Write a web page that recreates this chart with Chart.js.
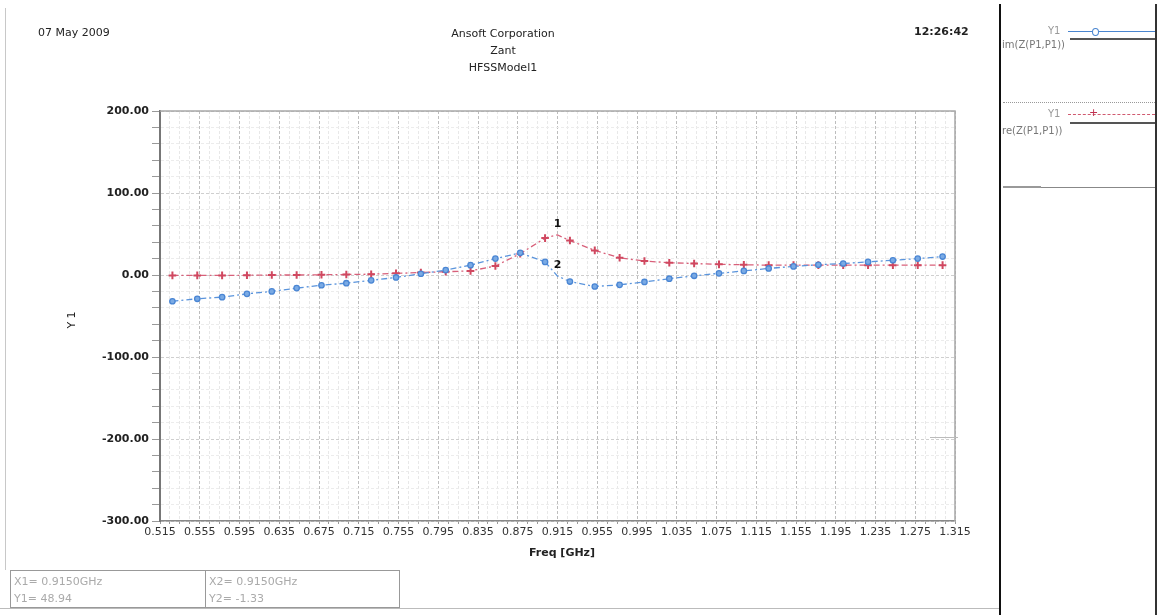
<!DOCTYPE html>
<html><head><meta charset="utf-8">
<script src="https://cdn.jsdelivr.net/npm/chart.js@4.4.1/dist/chart.umd.min.js"></script>
<style>
html,body{margin:0;padding:0;background:#fff;width:1158px;height:615px;overflow:hidden;}
#wrap{position:relative;width:1158px;height:615px;}
canvas{position:absolute;left:0;top:0;}
.t{position:absolute;font-family:"DejaVu Sans",sans-serif;white-space:nowrap;font-size:11px;color:#222;line-height:14px;}
.ln{position:absolute;}
</style></head>
<body><div id="wrap">
<canvas id="c" width="1158" height="615"></canvas>

<div class="ln" style="left:5px;top:8px;width:1px;height:562px;background:#c8c8c8"></div>
<div class="t" style="left:38px;top:26px;">07 May 2009</div>
<div class="t" style="left:403px;top:25px;width:200px;text-align:center;line-height:17px;">Ansoft Corporation<br>Zant<br>HFSSModel1</div>
<div class="t" style="left:914px;top:25px;font-weight:bold;">12:26:42</div>

<div class="ln" style="left:999px;top:4px;width:2px;height:611px;background:#111"></div>
<div class="ln" style="left:1155px;top:4px;width:2px;height:611px;background:#333"></div>
<div class="t" style="left:1048px;top:24px;color:#999;font-size:10px;">Y1</div>
<div class="ln" style="left:1068px;top:31px;width:87px;height:1px;background:#4a86d0"></div>
<div class="ln" style="left:1092px;top:28px;width:5px;height:6px;border:1px solid #4a86d0;border-radius:50%;background:#fff"></div>
<div class="ln" style="left:1070px;top:38px;width:85px;height:2px;background:#555"></div>
<div class="t" style="left:1002px;top:38px;color:#777;font-size:10px;">im(Z(P1,P1))</div>
<div class="ln" style="left:1003px;top:102px;width:152px;height:0;border-top:1px dotted #999"></div>
<div class="t" style="left:1048px;top:107px;color:#999;font-size:10px;">Y1</div>
<div class="ln" style="left:1068px;top:114px;width:87px;height:0;border-top:1px dashed #d05a70"></div>
<div class="t" style="left:1089px;top:106px;color:#c03050;font-size:11px;">+</div>
<div class="ln" style="left:1070px;top:122px;width:85px;height:2px;background:#555"></div>
<div class="t" style="left:1002px;top:124px;color:#777;font-size:10px;">re(Z(P1,P1))</div>
<div class="ln" style="left:1003px;top:187px;width:152px;height:1px;background:#888"></div>
<div class="ln" style="left:1003px;top:186px;width:38px;height:2px;background:#999"></div>

<div class="t" style="left:52px;top:313px;transform:rotate(-90deg);transform-origin:center;width:40px;text-align:center;">Y 1</div>
<div class="t" style="left:512px;top:546px;width:100px;text-align:center;font-weight:bold;">Freq [GHz]</div>

<div class="ln" style="left:10px;top:570px;width:390px;height:38px;border:1px solid #999;box-sizing:border-box"></div>
<div class="ln" style="left:205px;top:570px;width:1px;height:38px;background:#999"></div>
<div class="t" style="left:14px;top:573px;color:#aaa;line-height:17px;">X1= 0.9150GHz<br>Y1= 48.94</div>
<div class="t" style="left:209px;top:573px;color:#aaa;line-height:17px;">X2= 0.9150GHz<br>Y2= -1.33</div>
<div class="ln" style="left:0px;top:608px;width:999px;height:1px;background:#bbb"></div>
<div class="ln" style="left:930px;top:437px;width:28px;height:1px;background:#bbb"></div>
</div>
<script>
const freqGHz = [0.5275, 0.5525, 0.5775, 0.6025, 0.6275, 0.6525, 0.6775, 0.7025, 0.7275, 0.7525,
  0.7775, 0.8025, 0.8275, 0.8525, 0.8775, 0.9025, 0.915, 0.9275, 0.9525, 0.9775, 1.0025, 1.0275,
  1.0525, 1.0775, 1.1025, 1.1275, 1.1525, 1.1775, 1.2025, 1.2275, 1.2525, 1.2775, 1.3025];
const imZ = [-32, -29, -27, -23, -20, -16, -12.5, -10, -6.5, -3,
  1.5, 6, 12, 20, 27, 16, -1.33, -8, -14, -12, -8.5, -4.5,
  -1, 2, 5, 8, 10.5, 12.5, 14, 16, 18, 20, 22.5];
const reZ = [-0.5, -0.5, -0.5, -0.3, 0, 0, 0.3, 0.6, 1, 2,
  3, 4, 5, 11, 26, 45, 48.94, 42, 30, 21, 17, 15,
  14, 13, 12.5, 12, 12, 12, 12, 12, 12, 12, 12];
const xTickLabels = ["0.515","0.555","0.595","0.635","0.675","0.715","0.755","0.795","0.835","0.875",
  "0.915","0.955","0.995","1.035","1.075","1.115","1.155","1.195","1.235","1.275","1.315"];
const yTickLabels = ["-300.00","-200.00","-100.00","0.00","100.00","200.00"];
const markerIndex = 16;
const markerNames = ["1","2"];

const xMajor = xTickLabels.map(parseFloat);
const yMajor = yTickLabels.map(parseFloat);
const isXMajor = v => xMajor.some(m => Math.abs(m - v) < 1e-6);
const isYMajor = v => yMajor.some(m => Math.abs(m - v) < 1e-6);

function xTicks() {
  const out = [];
  for (let i = 0; i < xMajor.length; i++) {
    out.push({value: xMajor[i]});
    if (i < xMajor.length - 1) {
      const step = (xMajor[i+1] - xMajor[i]) / 4;
      for (let k = 1; k < 4; k++) out.push({value: xMajor[i] + step * k});
    }
  }
  return out;
}
function yTicks() {
  const out = [];
  for (let i = 0; i < yMajor.length; i++) {
    out.push({value: yMajor[i]});
    if (i < yMajor.length - 1) {
      const step = (yMajor[i+1] - yMajor[i]) / 5;
      for (let k = 1; k < 5; k++) out.push({value: yMajor[i] + step * k});
    }
  }
  return out;
}

const frame = {
  id: 'frame',
  afterDatasetsDraw(chart) {
    const {ctx, chartArea: a} = chart;
    ctx.save();
    ctx.strokeStyle = '#a8a8a8'; ctx.lineWidth = 1.5;
    ctx.beginPath();
    ctx.moveTo(a.left, a.top); ctx.lineTo(a.right, a.top); ctx.lineTo(a.right, a.bottom);
    ctx.stroke();
    ctx.fillStyle = '#111';
    ctx.font = 'bold 11px "DejaVu Sans"';
    ctx.textAlign = 'center';
    [1, 0].forEach((di, n) => {
      const el = chart.getDatasetMeta(di).data[markerIndex];
      ctx.fillText(markerNames[n], el.x, el.y - 8);
    });
    ctx.restore();
  }
};

const pr = (r) => (c) => c.dataIndex === markerIndex ? 0 : r;

new Chart(document.getElementById('c'), {
  type: 'line',
  data: {
    datasets: [
      {label: 'im(Z(P1,P1))', data: freqGHz.map((f, i) => ({x: f, y: imZ[i]})),
       borderColor: '#5a94dc', backgroundColor: '#5a94dc', borderWidth: 1.3,
       borderDash: [6, 3, 2, 3], pointStyle: 'circle', pointRadius: pr(2.7),
       pointBorderColor: '#4a86d4', pointBackgroundColor: '#7aaae4', tension: 0},
      {label: 're(Z(P1,P1))', data: freqGHz.map((f, i) => ({x: f, y: reZ[i]})),
       borderColor: '#d8607a', backgroundColor: '#d8607a', borderWidth: 1.3,
       borderDash: [6, 3, 2, 3], pointStyle: 'cross', pointRadius: pr(3.8), pointBorderWidth: 2,
       pointBorderColor: '#d04860', tension: 0}
    ]
  },
  options: {
    responsive: false, animation: false, devicePixelRatio: 1,
    layout: {padding: {left: 0, top: 111, right: 203, bottom: 64}},
    plugins: {legend: {display: false}, tooltip: {enabled: false}},
    scales: {
      x: {
        type: 'linear', min: xMajor[0], max: xMajor[xMajor.length - 1],
        afterBuildTicks: s => { s.ticks = xTicks(); },
        afterFit: s => { s.height = 30; },
        ticks: {autoSkip: false, maxRotation: 0, padding: 2, color: '#333',
          font: {family: 'DejaVu Sans', size: 11},
          callback: v => { const i = xMajor.findIndex(m => Math.abs(m - v) < 1e-6); return i >= 0 ? xTickLabels[i] : ''; }},
        grid: {color: c => isXMajor(c.tick.value) ? '#bdbdbd' : '#e8e8e8', lineWidth: 1,
          tickLength: 3, tickColor: '#999'},
        border: {color: '#888', width: 1.5, dash: [3, 2]}
      },
      y: {
        type: 'linear', min: yMajor[0], max: yMajor[yMajor.length - 1],
        afterBuildTicks: s => { s.ticks = yTicks(); },
        afterFit: s => { s.width = 160; },
        ticks: {autoSkip: false, padding: 3, color: '#222',
          font: {family: 'DejaVu Sans', size: 11, weight: 'bold'},
          callback: v => { const i = yMajor.findIndex(m => Math.abs(m - v) < 1e-6); return i >= 0 ? yTickLabels[i] : ''; }},
        grid: {color: c => isYMajor(c.tick.value) ? '#cfcfcf' : '#ececec', lineWidth: 1,
          tickLength: 8, tickColor: '#999'},
        border: {color: '#777', width: 2, dash: [3, 2]}
      }
    }
  },
  plugins: [frame]
});
</script>
</body></html>
